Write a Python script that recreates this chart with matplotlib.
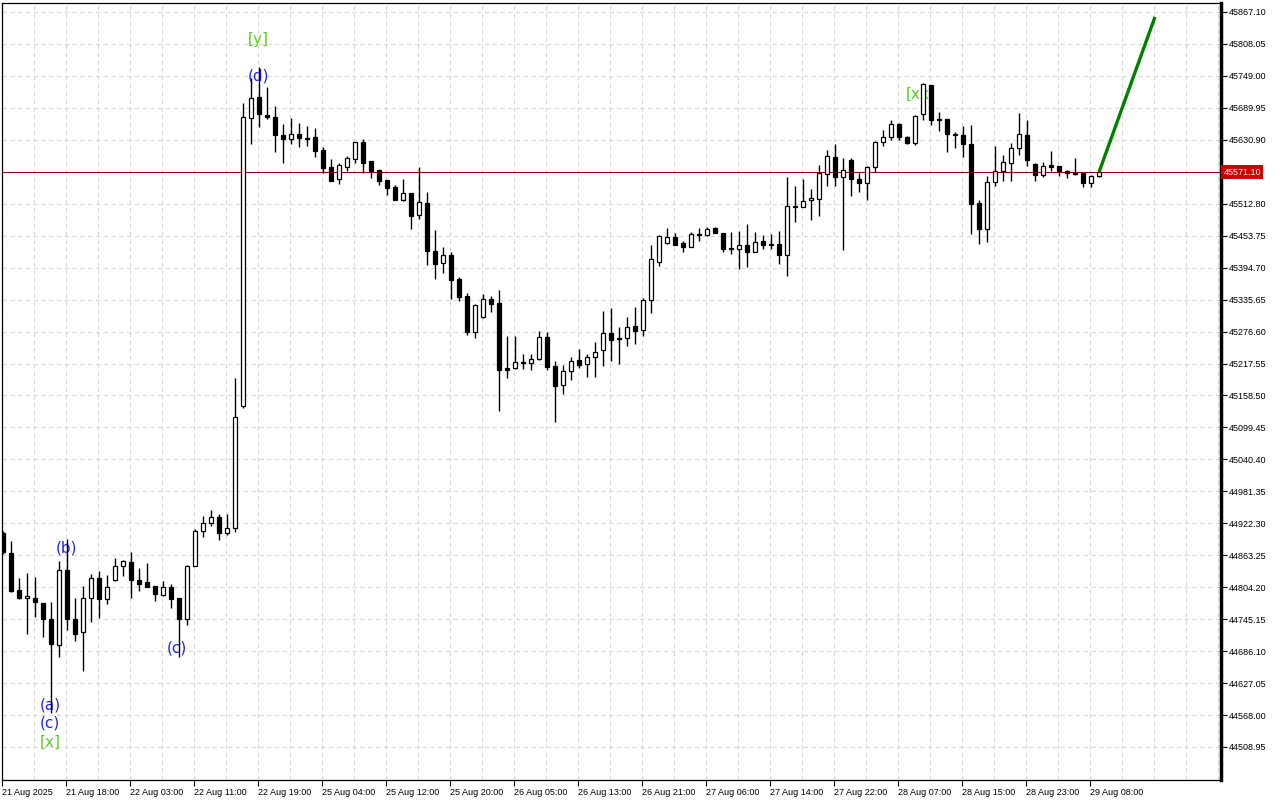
import numpy as np
import matplotlib.pyplot as plt

# hourly candles, oldest first
opens = [44903.8, 44868.1, 44799.1, 44783.7, 44783.7, 44774.4, 44745.5, 44696.8, 44835.4, 44745.5,
         44720.9, 44783.7, 44820.6, 44781.8, 44816.9, 44842.8, 44850.8, 44817.5, 44813.2, 44806.5,
         44790.5, 44804.0, 44784.9, 44744.9, 44843.4, 44907.5, 44922.3, 44933.4, 44905.1, 44913.0,
         45139.7, 45670.6, 45709.4, 45676.8, 45673.7, 45639.2, 45631.8, 45641.1, 45633.7, 45636.1,
         45612.1, 45580.1, 45557.9, 45581.3, 45596.1, 45626.9, 45591.8, 45575.1, 45557.3, 45544.4,
         45520.3, 45532.6, 45492.6, 45514.2, 45425.5, 45402.7, 45418.1, 45373.7, 45342.3, 45276.4,
         45302.9, 45336.2, 45329.4, 45208.7, 45209.9, 45221.0, 45219.2, 45226.6, 45265.9, 45212.4,
         45177.3, 45203.1, 45223.5, 45216.1, 45229.0, 45241.9, 45273.3, 45264.1, 45264.1, 45286.9,
         45278.9, 45334.3, 45405.8, 45440.9, 45451.3, 45440.3, 45433.5, 45455.7, 45454.4, 45468.0,
         45458.7, 45430.4, 45428.6, 45436.6, 45423.0, 45444.0, 45438.4, 45438.4, 45417.5, 45508.6,
         45506.2, 45519.1, 45521.0, 45568.4, 45598.6, 45561.6, 45593.6, 45558.5, 45551.8, 45580.1,
         45626.3, 45635.5, 45660.2, 45636.1, 45625.7, 45678.0, 45732.2, 45669.4, 45669.4, 45641.1,
         45639.8, 45623.2, 45513.6, 45466.8, 45552.4, 45572.7, 45587.5, 45615.2, 45639.8, 45586.2,
         45566.5, 45584.4, 45581.9, 45572.7, 45569.6, 45569.0, 45550.5, 45563.4]
highs = [44908.0, 44889.6, 44820.6, 44831.1, 44823.1, 44775.0, 44776.9, 44852.0, 44892.7, 44783.7,
         44806.5, 44828.6, 44834.8, 44826.8, 44857.6, 44853.9, 44868.7, 44839.1, 44849.0, 44806.5,
         44816.3, 44809.5, 44785.0, 44844.7, 44911.8, 44935.8, 44946.9, 44939.5, 44939.5, 45191.4,
         45698.3, 45744.5, 45766.1, 45729.1, 45693.4, 45659.5, 45670.6, 45661.4, 45656.5, 45652.1,
         45618.3, 45594.8, 45587.5, 45601.0, 45627.0, 45631.8, 45592.0, 45575.5, 45557.5, 45547.4,
         45558.5, 45533.0, 45580.1, 45534.5, 45463.7, 45432.9, 45423.0, 45377.4, 45347.2, 45327.6,
         45346.0, 45342.3, 45353.4, 45269.1, 45269.1, 45235.2, 45235.2, 45277.0, 45275.2, 45221.6,
         45214.2, 45230.2, 45243.8, 45234.6, 45257.9, 45314.6, 45319.5, 45285.7, 45303.5, 45322.0,
         45339.3, 45436.6, 45455.0, 45468.0, 45458.7, 45443.9, 45460.0, 45468.0, 45469.8, 45469.2,
         45459.0, 45460.6, 45462.4, 45475.4, 45460.6, 45455.7, 45457.5, 45463.0, 45562.8, 45545.6,
         45559.1, 45540.7, 45584.4, 45612.1, 45623.2, 45596.7, 45596.7, 45569.0, 45582.5, 45629.4,
         45648.5, 45667.5, 45661.4, 45638.0, 45676.0, 45735.3, 45733.0, 45682.9, 45670.0, 45646.0,
         45656.5, 45658.3, 45519.7, 45564.1, 45619.5, 45602.9, 45625.0, 45680.5, 45667.5, 45588.1,
         45589.9, 45610.3, 45582.0, 45574.5, 45596.7, 45569.0, 45565.9, 45574.0]
lows = [44866.0, 44796.0, 44781.8, 44717.8, 44749.8, 44712.9, 44571.2, 44674.7, 44724.6, 44704.2,
        44650.0, 44740.6, 44747.3, 44772.6, 44816.0, 44825.6, 44784.9, 44797.8, 44805.0, 44779.4,
        44788.6, 44766.4, 44674.7, 44735.0, 44843.0, 44896.4, 44917.4, 44891.5, 44901.4, 44906.9,
        45136.0, 45622.6, 45655.2, 45668.8, 45607.8, 45588.7, 45622.6, 45618.3, 45619.5, 45599.8,
        45570.2, 45555.0, 45549.9, 45573.3, 45587.5, 45570.2, 45561.0, 45547.4, 45529.0, 45520.0,
        45518.5, 45466.8, 45484.0, 45400.2, 45373.1, 45385.5, 45337.4, 45333.7, 45270.9, 45265.4,
        45302.0, 45313.4, 45130.5, 45191.4, 45208.1, 45207.5, 45205.6, 45224.1, 45205.6, 45110.1,
        45160.6, 45187.1, 45209.3, 45193.3, 45193.3, 45213.6, 45222.2, 45216.1, 45250.6, 45253.6,
        45269.0, 45311.5, 45398.4, 45437.8, 45437.0, 45424.3, 45433.0, 45444.6, 45454.0, 45458.0,
        45424.3, 45420.5, 45392.8, 45395.9, 45423.0, 45429.8, 45429.8, 45402.1, 45379.9, 45479.7,
        45506.0, 45483.4, 45490.8, 45546.2, 45545.0, 45427.3, 45527.7, 45535.1, 45520.3, 45570.8,
        45619.5, 45630.0, 45630.6, 45623.2, 45622.0, 45667.5, 45658.3, 45647.8, 45609.0, 45616.4,
        45599.8, 45456.9, 45437.8, 45442.7, 45545.6, 45555.4, 45555.4, 45602.9, 45581.9, 45555.4,
        45561.6, 45573.3, 45564.1, 45561.0, 45565.3, 45544.4, 45544.4, 45563.0]
closes = [44868.7, 44797.2, 44784.3, 44787.4, 44776.3, 44744.9, 44698.7, 44835.4, 44744.9, 44717.2,
          44783.7, 44820.6, 44783.1, 44804.0, 44842.8, 44852.0, 44817.5, 44810.8, 44805.2, 44791.1,
          44804.0, 44783.1, 44744.9, 44842.8, 44907.5, 44923.5, 44933.4, 44905.1, 44913.0, 45118.2,
          45672.5, 45707.6, 45678.0, 45672.5, 45639.2, 45631.8, 45641.1, 45633.7, 45631.8, 45610.9,
          45579.5, 45555.4, 45584.4, 45596.7, 45626.9, 45588.7, 45573.3, 45555.4, 45542.5, 45520.3,
          45532.0, 45490.8, 45515.4, 45426.1, 45402.1, 45418.7, 45372.5, 45341.1, 45276.4, 45325.7,
          45336.2, 45328.2, 45206.2, 45206.2, 45219.8, 45219.2, 45225.3, 45265.9, 45211.8, 45176.7,
          45203.1, 45222.9, 45215.5, 45229.0, 45239.5, 45273.3, 45261.6, 45262.3, 45284.4, 45278.3,
          45334.3, 45410.1, 45453.2, 45451.3, 45437.2, 45433.5, 45456.3, 45456.9, 45466.1, 45458.1,
          45429.8, 45429.2, 45436.0, 45424.3, 45442.1, 45436.6, 45435.9, 45418.7, 45508.6, 45506.2,
          45517.9, 45523.4, 45569.0, 45600.4, 45561.6, 45575.1, 45557.9, 45551.8, 45580.0, 45626.9,
          45635.5, 45660.2, 45636.7, 45625.7, 45674.3, 45733.4, 45668.2, 45668.2, 45641.1, 45639.2,
          45622.6, 45513.0, 45466.8, 45552.4, 45572.7, 45589.9, 45615.2, 45641.7, 45594.2, 45566.5,
          45582.0, 45581.3, 45572.7, 45569.0, 45568.4, 45550.5, 45563.4, 45571.1]

time_labels = ["21 Aug 2025", "21 Aug 18:00", "22 Aug 03:00", "22 Aug 11:00", "22 Aug 19:00",
               "25 Aug 04:00", "25 Aug 12:00", "25 Aug 20:00", "26 Aug 05:00", "26 Aug 13:00",
               "26 Aug 21:00", "27 Aug 06:00", "27 Aug 14:00", "27 Aug 22:00", "28 Aug 07:00",
               "28 Aug 15:00", "28 Aug 23:00", "29 Aug 08:00"]
price_ticks = [44508.95, 44568.00, 44627.05, 44686.10, 44745.15, 44804.20, 44863.25, 44922.30,
               44981.35, 45040.40, 45099.45, 45158.50, 45217.55, 45276.60, 45335.65, 45394.70,
               45453.75, 45512.80, 45571.85, 45630.90, 45689.95, 45749.00, 45808.05, 45867.10]
last_price = 45571.10

# wave labels: (text, candle position, price, kind)
wave_labels = [("[y]", 31.9, 45815.4, "green"), ("(d)", 31.9, 45748.8, "blue"),
               ("[xx]", 114.75, 45715.6, "green"), ("(b)", 7.9, 44876.7, "blue"),
               ("(c)", 21.75, 44691.9, "blue"), ("(a)", 5.9, 44586.6, "blue"),
               ("(c)", 5.9, 44553.3, "blue"), ("[x]", 5.9, 44518.2, "green")]

# projection line
proj_x = [137, 144]
proj_y = [45571.1, 45858.0]

o = np.array(opens)
h = np.array(highs)
l = np.array(lows)
c = np.array(closes)
x = np.arange(len(o))

fig = plt.figure(figsize=(12.8, 8), dpi=100)
ax = fig.add_axes([2 / 1280, 20 / 800, 1219 / 1280, 777 / 800])

grid_kw = dict(color="#d9d9d9", linestyle=(0, (4, 3)), linewidth=0.8, zorder=0)
for p in price_ticks:
    ax.axhline(p, **grid_kw)
for gx in np.arange(0, 153, 4):
    ax.axvline(gx - 0.125, **grid_kw)

ax.axhline(last_price, color="#9a0000", linewidth=0.72, zorder=1)

# candles
ax.vlines(x, l, h, color="black", linewidth=1.0, zorder=3)
up = c >= o
body_lo = np.minimum(o, c)
body_h = np.maximum(np.abs(c - o), 1.0)
ax.bar(x, body_h, bottom=body_lo, width=0.62,
       color=np.where(up, "white", "black"), edgecolor="black", linewidth=0.9, zorder=4)

ax.plot(proj_x, proj_y, color="#008000", linewidth=2.4, zorder=5, solid_capstyle="butt")

colors = {"green": "#5ccc2a", "blue": "#2424ee"}
for txt, px, py, kind in wave_labels:
    ax.text(px, py, txt, color=colors[kind], fontsize=11, ha="center", va="center", zorder=2)

ax.set_xlim(-0.125, 152.25)
ax.set_ylim(44447.96, 45883.73)

ax.yaxis.tick_right()
ax.set_yticks(price_ticks)
ax.set_yticklabels([("" if abs(p - 45571.85) < 0.01 else f"{p:.2f}") for p in price_ticks])
ax.set_xticks(np.arange(0, len(time_labels) * 8, 8) - 0.125)
ax.set_xticklabels(time_labels)
for lab in ax.get_xticklabels():
    lab.set_horizontalalignment("left")
ax.tick_params(axis="both", labelsize=6.5, length=4, width=0.8, color="black", pad=1.5)
for lab in ax.get_xticklabels() + ax.get_yticklabels():
    lab.set_fontfamily("Liberation Sans")

for side in ["top", "left", "bottom"]:
    ax.spines[side].set_linewidth(0.9)
ax.spines["right"].set_linewidth(2.5)

ax.text(1.002, last_price, f"{last_price:.2f}", transform=ax.get_yaxis_transform(),
        fontsize=6.5, family="Liberation Sans", color="white", ha="left", va="center",
        bbox=dict(boxstyle="square,pad=0.25", facecolor="#cc0000", edgecolor="none"),
        clip_on=False, zorder=10)

fig.savefig("out.png", dpi=100)
